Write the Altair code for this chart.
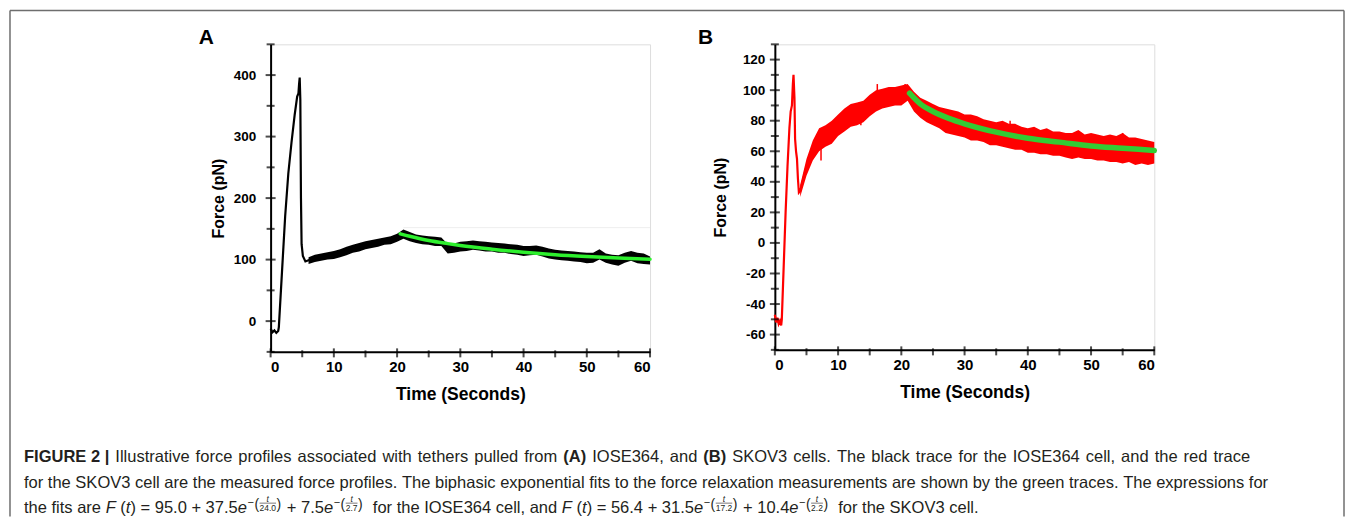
import altair as alt
import pandas as pd

# ---------------- Panel A (IOSE364) ----------------
a_fast_t = [0, 0.3, 0.6, 0.9, 1.2, 1.3, 1.8, 2.3, 2.8, 3.3, 3.8, 4.2, 4.4, 4.5, 4.6, 4.7, 4.8, 4.9, 5.1, 5.5]
a_fast_f = [-12, -18, -15, -19, -16, -10, 80, 170, 240, 290, 335, 365, 370, 385, 396, 360, 200, 125, 106, 97]
a_t = list(range(6, 61))
a_mid = [99, 102, 104, 106, 108, 111, 114, 118, 120, 124,
         126, 128, 130, 132, 136, 143, 138, 135, 133, 132,
         131, 130, 118, 119, 121, 123, 124, 123, 122, 121,
         120, 119, 118, 117, 115, 115, 116, 114, 111, 109,
         108, 107, 106, 105, 103, 104, 109, 103, 101, 100,
         104, 107, 103, 102, 99]
a_lo = [93, 96, 98, 100, 101, 104, 107, 111, 113, 117,
        119, 121, 124, 125, 129, 134, 130, 127, 125, 124,
        122, 122, 110, 111, 113, 114, 116, 115, 113, 113,
        111, 111, 109, 108, 106, 107, 108, 105, 102, 100,
        99, 98, 97, 96, 94, 95, 100, 95, 92, 90,
        95, 98, 94, 93, 92]
a_hi = [104, 108, 110, 112, 114, 117, 121, 124, 127, 130,
        132, 134, 136, 138, 142, 149, 145, 141, 139, 138,
        137, 136, 125, 126, 129, 130, 131, 130, 129, 128,
        127, 126, 125, 124, 122, 122, 123, 121, 118, 116,
        115, 114, 113, 112, 111, 111, 117, 110, 108, 107,
        111, 114, 111, 110, 105]
a_fit_t = [20.5, 22, 25, 28, 30, 35, 40, 45, 50, 55, 60]
a_fit_f = [142, 138, 131, 126, 123, 117, 112, 108, 105, 102.5, 100.5]
a_ref_t = [21, 60]
a_ref_f = [152, 152]
a_y_major = [0, 100, 200, 300, 400]
a_y_minor = [-50, 50, 150, 250, 350, 450]

# ---------------- Panel B (SKOV3) ----------------
b_fast_t = [0, 0.2, 0.4, 0.6, 0.8, 1.0, 1.1, 1.4, 1.7, 2.0, 2.3, 2.5, 2.7, 2.85, 2.95, 3.1, 3.2, 3.35, 3.5, 3.65, 3.8]
b_fast_f = [-47, -52, -49, -53, -51, -54, -50, -15, 20, 50, 75, 86, 90, 104, 110, 95, 68, 60, 55, 42, 33]
b_t = list(range(4, 61))
b_mid = [34, 50, 61, 68, 71, 73, 77, 81, 84, 85,
         86, 90, 93, 95, 96, 96, 97, 100, 93, 89,
         87, 85, 82, 80, 79, 78, 77, 76, 75, 74,
         73, 72, 72, 71, 70, 69, 68, 68, 67, 67,
         66, 66, 65, 65, 65, 64, 64, 64, 63, 63,
         62, 63, 62, 61, 61, 60, 60]
b_lo = [30, 44, 54, 60, 63, 65, 70, 73, 76, 77,
        79, 83, 86, 88, 89, 90, 90, 93, 86, 82,
        79, 77, 75, 72, 71, 70, 69, 67, 67, 66,
        64, 64, 63, 62, 61, 61, 59, 59, 58, 58,
        57, 57, 56, 55, 56, 55, 55, 54, 54, 53,
        53, 52, 53, 51, 52, 51, 52]
b_hi = [38, 55, 67, 75, 77, 80, 84, 88, 91, 92,
        93, 97, 100, 101, 102, 102, 103, 104, 99, 95,
        93, 91, 89, 88, 87, 86, 84, 84, 83, 81,
        80, 79, 80, 78, 78, 76, 75, 76, 74, 75,
        73, 73, 72, 72, 74, 71, 72, 71, 70, 71,
        70, 72, 69, 69, 68, 67, 66]
b_spike_t = [7.3, 13.6, 16.2, 20.6, 37.2, 48.5, 55.0]
b_spike_lo = [54, 77, 90, 95, 70, 64, 60]
b_spike_hi = [70, 86, 104, 104, 80, 72, 72]
b_fit_t = [21.3, 23, 25, 27.5, 30, 35, 40, 45, 50, 55, 60]
b_fit_f = [98, 91, 86, 81.5, 78, 72.5, 68.5, 66, 63.5, 62, 60.5]
b_y_major = [-60, -40, -20, 0, 20, 40, 60, 80, 100, 120]
b_y_minor = [-70, -50, -30, -10, 10, 30, 50, 70, 90, 110, 130]

x_major = [0, 10, 20, 30, 40, 50, 60]
x_minor = [5, 15, 25, 35, 45, 55]

# ---------------- Caption text ----------------
cap_line1 = [("FIGURE 2 |", "bold"),
             ("Illustrative force profiles associated with tethers pulled from", "normal"),
             ("(A)", "bold"), ("IOSE364, and", "normal"), ("(B)", "bold"),
             ("SKOV3 cells. The black trace for the IOSE364 cell, and the red trace", "normal")]
cap_line2 = ("for the SKOV3 cell are the measured force profiles. The biphasic exponential "
             "fits to the force relaxation measurements are shown by the green traces. "
             "The expressions for")
# line 3: ("txt", text, style) or ("exp", denominator)
cap_line3 = [("txt", "the fits are ", "normal"), ("txt", "F", "italic"), ("txt", " (", "normal"),
             ("txt", "t", "italic"), ("txt", ") = 95.0 + 37.5", "normal"), ("txt", "e", "italic"),
             ("exp", "24.0"), ("txt", " + 7.5", "normal"), ("txt", "e", "italic"), ("exp", "2.7"),
             ("txt", "  for the IOSE364 cell, and ", "normal"), ("txt", "F", "italic"),
             ("txt", " (", "normal"), ("txt", "t", "italic"), ("txt", ") = 56.4 + 31.5", "normal"),
             ("txt", "e", "italic"), ("exp", "17.2"), ("txt", " + 10.4", "normal"),
             ("txt", "e", "italic"), ("exp", "2.2"), ("txt", "  for the SKOV3 cell.", "normal")]

FONT = "Liberation Sans"
ONE = pd.DataFrame({"a": [0]})

# Arial / Liberation Sans advance widths (per 1000 em) for layout of caption runs
_W = {" ": 278, "!": 278, "(": 333, ")": 333, "+": 584, ",": 278, "-": 333, ".": 278,
      "/": 278, ":": 278, "=": 584, "|": 260, "−": 584}
for c in "0123456789":
    _W[c] = 556
_W.update(dict(zip("ABCDEFGHIJKLMNOPQRSTUVWXYZ",
                   [667, 667, 722, 722, 667, 611, 778, 722, 278, 500, 667, 556, 833,
                    722, 778, 667, 778, 722, 667, 611, 722, 667, 944, 667, 667, 611])))
_W.update(dict(zip("abcdefghijklmnopqrstuvwxyz",
                   [556, 556, 500, 556, 556, 278, 556, 556, 222, 222, 500, 222, 833,
                    556, 556, 556, 556, 333, 500, 278, 556, 500, 722, 500, 500, 500])))
_WB = dict(_W)
_WB.update({"A": 722, "B": 722, "C": 722, "G": 778, "R": 722, "U": 722, "|": 280,
            "(": 333, ")": 333})


def text_w(s, size, weight="normal"):
    tab = _WB if weight == "bold" else _W
    return sum(tab.get(c, 556) for c in s) * size / 1000.0


# page geometry (A plot origin at page OX, OY)
OX, OY = 269, 42
CAP_X = 22
L1, L2, L3 = 460, 486, 511
L1_END, L2_END = 1250, 1268
FS = (L2_END - CAP_X) / text_w(cap_line2, 1.0)
INK = "#231f20"


def seg(x, y, text, size=None, weight="normal", style="normal", align="left"):
    return alt.Chart(ONE).mark_text(font=FONT, fontSize=size or FS, fontWeight=weight,
                                    fontStyle=style, align=align,
                                    baseline="alphabetic", color=INK).encode(
        x=alt.value(x - OX), y=alt.value(y - OY), text=alt.value(text))


def justified(words, y, x0, x1):
    widths = [text_w(w, FS, wt) for w, wt in words]
    gap = (x1 - x0 - sum(widths)) / (len(words) - 1)
    out, x = [], x0
    for (w, wt), ww in zip(words, widths):
        out.append(seg(x, y, w, weight=wt))
        x += ww + gap
    return out


def caption_marks():
    marks = []
    w1 = []
    for txt, wt in cap_line1:
        if txt == "FIGURE 2 |":
            w1.append((txt, wt))
        else:
            w1 += [(w, wt) for w in txt.split(" ")]
    marks += justified(w1, L1, CAP_X, L1_END)
    marks += justified([(w, "normal") for w in cap_line2.split(" ")], L2, CAP_X, L2_END)
    x = CAP_X
    for item in cap_line3:
        if item[0] == "txt":
            _, txt, st = item
            lead = txt[:len(txt) - len(txt.lstrip(" "))]
            body = txt.strip(" ")
            marks.append(seg(x + text_w(lead, FS), L3, body, style=st))
            x += text_w(txt, FS)
        else:
            den = item[1]
            fw = text_w(den, 8.5)
            marks.append(seg(x + 0.5, L3 - 7, "−", size=11))
            x += text_w("−", 11) + 1
            marks.append(seg(x, L3 - 4, "(", size=14))
            x += text_w("(", 14) + 0.5
            marks.append(seg(x + fw / 2, L3 - 10.5, "t", size=8.5, style="italic", align="center"))
            marks.append(seg(x + fw / 2, L3 - 2, den, size=8.5, align="center"))
            marks.append(alt.Chart(ONE).mark_rule(color=INK, strokeWidth=0.6).encode(
                x=alt.value(x - OX), x2=alt.value(x + fw - OX), y=alt.value(L3 - 9.5 - OY)))
            x += fw + 0.5
            marks.append(seg(x, L3 - 4, ")", size=14))
            x += text_w(")", 14) + 1
    return marks


BL, BT, BR, BB = 8, 8, 1344, 515
BORDER = "#6e6e6e"


def border_marks():
    return [
        alt.Chart(ONE).mark_rule(color=BORDER, strokeWidth=1.5).encode(
            x=alt.value(BL - OX), x2=alt.value(BR - OX), y=alt.value(BT - OY)),
        alt.Chart(ONE).mark_rule(color=BORDER, strokeWidth=1.5).encode(
            x=alt.value(BL - OX), y=alt.value(BT - OY), y2=alt.value(BB - OY)),
        alt.Chart(ONE).mark_rule(color=BORDER, strokeWidth=1.5).encode(
            x=alt.value(BR - OX), y=alt.value(BT - OY), y2=alt.value(BB - OY)),
    ]


def panel(fast_t, fast_f, t, mid, lo, hi, fit_t, fit_f, color, fit_color, fit_w,
          ydom, ymaj, ymin, letter, letter_dx, lab_pad, title_pad, height,
          extra_layers=(), overlay=()):
    xs = alt.Scale(domain=[0, 60], nice=False, zero=False)
    ys = alt.Scale(domain=ydom, nice=False, zero=False)
    xaxis = alt.Axis(values=x_major, ticks=False, grid=False, domainColor="black",
                     domainWidth=2, labelFont=FONT, labelFontSize=15,
                     labelFontWeight="bold", labelColor="black", labelPadding=8,
                     labelAngle=0, title="Time (Seconds)", titleFont=FONT,
                     titleFontSize=17.5, titleFontWeight="bold", titleColor="black",
                     titlePadding=11)
    yaxis = alt.Axis(values=ymaj, ticks=False, grid=False, domainColor="black",
                     domainWidth=2, labelFont=FONT, labelFontSize=13.5,
                     labelFontWeight="bold", labelColor="black",
                     labelPadding=lab_pad, labelExpr="toString(datum.value)",
                     title="Force (pN)", titleFont=FONT, titleFontSize=16,
                     titleFontWeight="bold", titleColor="black",
                     titlePadding=title_pad)

    def X(f):
        return alt.X(f, type="quantitative", scale=xs, axis=xaxis)

    def Y(f):
        return alt.Y(f, type="quantitative", scale=ys, axis=yaxis)

    line_df = pd.DataFrame({"t": list(fast_t) + list(t), "f": list(fast_f) + list(mid)})
    band_df = pd.DataFrame({"t": t, "lo": lo, "hi": hi})
    fit_df = pd.DataFrame({"t": fit_t, "f": fit_f})

    band = alt.Chart(band_df).mark_area(color=color, opacity=1).encode(
        x=X("t"), y=Y("lo"), y2="hi")
    line = alt.Chart(line_df).mark_line(color=color, strokeWidth=2.2).encode(
        x=X("t"), y=Y("f"))
    fit = alt.Chart(fit_df).mark_line(color=fit_color, strokeWidth=fit_w,
                                      interpolate="monotone", strokeCap="round").encode(
        x=X("t"), y=Y("f"))
    yt1 = alt.Chart(pd.DataFrame({"v": ymaj})).mark_tick(
        color="black", thickness=2, size=10).encode(y=Y("v"), x=alt.value(0))
    yt2 = alt.Chart(pd.DataFrame({"v": ymin})).mark_tick(
        color="black", thickness=2, size=8).encode(y=Y("v"), x=alt.value(0))
    xt1 = alt.Chart(pd.DataFrame({"v": x_major})).mark_tick(
        color="black", thickness=2, size=9).encode(x=X("v"), y=alt.value(height + 1))
    xt2 = alt.Chart(pd.DataFrame({"v": x_minor})).mark_tick(
        color="black", thickness=2, size=7).encode(x=X("v"), y=alt.value(height + 2))
    lab = alt.Chart(ONE).mark_text(font=FONT, fontSize=21, fontWeight="bold",
                                   align="left", baseline="alphabetic",
                                   color="black").encode(
        x=alt.value(letter_dx), y=alt.value(0), text=alt.value(letter))
    layers = ([band] + [l(X, Y) for l in extra_layers] +
              [line, fit, yt1, yt2, xt1, xt2, lab] + list(overlay))
    return alt.layer(*layers).properties(width=380, height=height)


def a_ref_layer(X, Y):
    return alt.Chart(pd.DataFrame({"t": a_ref_t, "f": a_ref_f})).mark_line(
        color="#eeeeee", strokeWidth=1).encode(x=X("t"), y=Y("f"))


def b_spike_layer(X, Y):
    return alt.Chart(pd.DataFrame({"t": b_spike_t, "lo": b_spike_lo, "hi": b_spike_hi})).mark_rule(
        color="#ff0000", strokeWidth=1.5).encode(x=X("t"), y=Y("lo"), y2="hi")


chartA = panel(a_fast_t, a_fast_f, a_t, a_mid, a_lo, a_hi, a_fit_t, a_fit_f,
               "#000000", "#2ef02e", 3.5, [-50, 450], a_y_major, a_y_minor,
               "A", -72, 15, 7, 308, extra_layers=(a_ref_layer,),
               overlay=border_marks() + caption_marks())
chartB = panel(b_fast_t, b_fast_f, b_t, b_mid, b_lo, b_hi, b_fit_t, b_fit_f,
               "#ff0000", "#33cc33", 5.5, [-70, 130], b_y_major, b_y_minor,
               "B", -77, 10, 14, 306, extra_layers=(b_spike_layer,))

chart = alt.hconcat(chartA, chartB, spacing=125, bounds="flush").properties(
    padding=0
).configure_view(stroke=None).configure(background="white")

chart.save("out.html", embed_options={"renderer": "svg", "actions": False})
